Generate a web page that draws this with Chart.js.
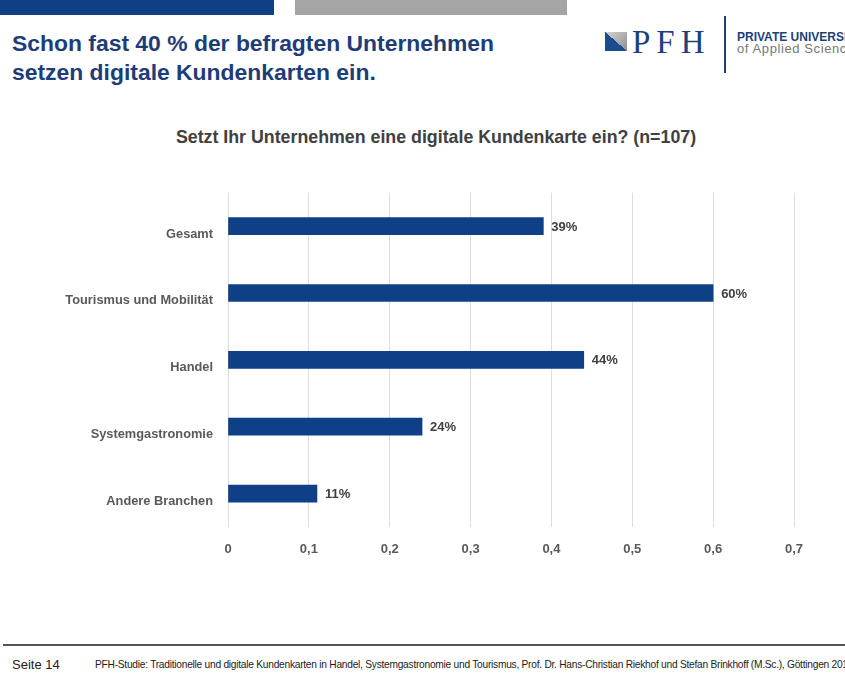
<!DOCTYPE html>
<html>
<head>
<meta charset="utf-8">
<script src="https://cdn.jsdelivr.net/npm/chart.js@4"></script>
<style>
  html, body { margin:0; padding:0; background:#fff; width:845px; height:684px; overflow:hidden; position:relative; font-family:"Liberation Sans", Arial, sans-serif; }
  .abs { position:absolute; white-space:nowrap; }
  #barBlue { left:0; top:0; width:274px; height:15px; background:#0f3f84; }
  #barGrey { left:295px; top:0; width:272px; height:15px; background:#a5a5a5; }
  #title { left:12px; top:29px; font-size:22.9px; font-weight:bold; color:#1d3c78; line-height:29px; }
  #logoIcon { left:605px; top:32px; width:22px; height:19px;
    background: linear-gradient(to top right, #1c4c8e 0%, #1c4c8e 50%, rgba(0,0,0,0) 50%), linear-gradient(135deg, #d4d4d4, #8e8e8e); }
  #pfh { left:632px; top:24px; font-family:"Liberation Serif", "DejaVu Serif", serif; font-size:33px; letter-spacing:6px; color:#1d3f7c; line-height:36px; }
  #vline { left:724px; top:16px; width:2px; height:57px; background:#1d3f7c; }
  #pu { left:737px; top:31px; font-size:12px; font-weight:bold; color:#1d3f7c; line-height:12px; }
  #oas { left:737px; top:43px; font-size:13px; color:#777; line-height:12px; letter-spacing:0.6px; }
  #ctitle { left:0; top:127px; width:872px; text-align:center; font-size:17.8px; font-weight:bold; color:#404040; }
  #wrap { position:absolute; left:0; top:170px; width:845px; height:420px; }
  #hline { left:3px; top:644px; width:842px; height:1.5px; background:#555; }
  #seite { left:12px; top:657px; font-size:13px; color:#222; }
  #foot { left:95px; top:659px; font-size:10.2px; color:#222; letter-spacing:-0.25px; }
</style>
</head>
<body>
<div class="abs" id="barBlue"></div>
<div class="abs" id="barGrey"></div>
<div class="abs" id="title">Schon fast 40 % der befragten Unternehmen<br>setzen digitale Kundenkarten ein.</div>
<div class="abs" id="logoIcon"></div>
<div class="abs" id="pfh">PFH</div>
<div class="abs" id="vline"></div>
<div class="abs" id="pu">PRIVATE UNIVERSITY</div>
<div class="abs" id="oas">of Applied Sciences</div>
<div class="abs" id="ctitle">Setzt Ihr Unternehmen eine digitale Kundenkarte ein? (n=107)</div>
<div id="wrap"><canvas id="c"></canvas></div>
<div class="abs" id="hline"></div>
<div class="abs" id="seite">Seite 14</div>
<div class="abs" id="foot">PFH-Studie: Traditionelle und digitale Kundenkarten in Handel, Systemgastronomie und Tourismus, Prof. Dr. Hans-Christian Riekhof und Stefan Brinkhoff (M.Sc.), Göttingen 2017</div>
<script>
const categories = ["Gesamt", "Tourismus und Mobilität", "Handel", "Systemgastronomie", "Andere Branchen"];
const values = [0.39, 0.60, 0.44, 0.24, 0.11];
const xMin = 0;
const xMax = 0.7;
const xStep = 0.1;

const valueLabels = {
  id: 'valueLabels',
  afterDatasetsDraw(chart) {
    const ctx = chart.ctx;
    const meta = chart.getDatasetMeta(0);
    const data = chart.data.datasets[0].data;
    ctx.save();
    ctx.font = 'bold 13px "Liberation Sans", Arial, sans-serif';
    ctx.fillStyle = '#404040';
    ctx.textAlign = 'left';
    ctx.textBaseline = 'middle';
    meta.data.forEach((el, i) => {
      ctx.fillText(Math.round(data[i] * 100) + '%', el.x + 8, el.y + 1);
    });
    ctx.restore();
  }
};

new Chart(document.getElementById('c'), {
  type: 'bar',
  data: {
    labels: categories,
    datasets: [{
      data: values,
      backgroundColor: '#0e3f87',
      borderWidth: 0,
      barThickness: 17
    }]
  },
  options: {
    indexAxis: 'y',
    responsive: true,
    maintainAspectRatio: false,
    animation: false,
    layout: { padding: { top: 19.5, right: 51, bottom: 23, left: 0 } },
    plugins: { legend: { display: false }, tooltip: { enabled: false }, title: { display: false } },
    scales: {
      x: {
        min: xMin, max: xMax,
        grid: { color: '#dedede', lineWidth: 1, drawTicks: false },
        border: { display: false },
        afterFit(scale) { scale.height = 40; },
        ticks: {
          stepSize: xStep,
          padding: 15,
          color: '#595959',
          font: { family: '"Liberation Sans", Arial, sans-serif', size: 13, weight: 'bold' },
          callback(v) { const r = Math.round(v * 10) / 10; return r === 0 ? '0' : r.toFixed(1).replace('.', ','); }
        }
      },
      y: {
        grid: { display: false, drawTicks: false },
        border: { display: false },
        afterFit(scale) { scale.width = 228; },
        ticks: {
          padding: 15,
          labelOffset: 8,
          color: '#595959',
          font: { family: '"Liberation Sans", Arial, sans-serif', size: 12.8, weight: 'bold' }
        }
      }
    }
  },
  plugins: [valueLabels]
});
</script>
</body>
</html>
